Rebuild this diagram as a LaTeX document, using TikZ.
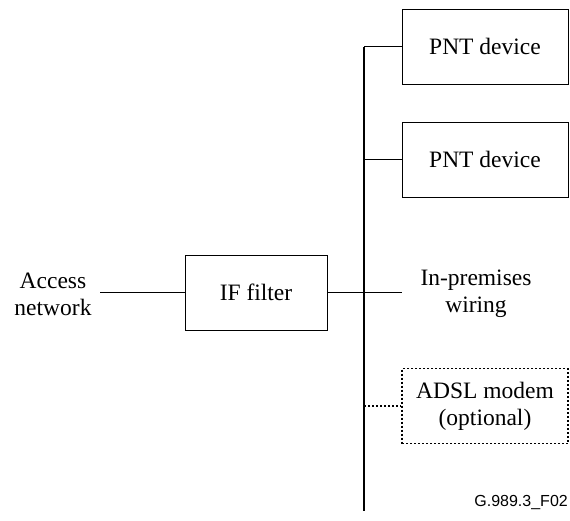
\documentclass[tikz,border=0pt]{standalone}
\usepackage{fontspec}
\setmainfont{Liberation Serif}
\newfontfamily\labelsans{Liberation Sans}
\begin{document}
\begin{tikzpicture}[x=1pt,y=-1pt,
  txt/.style={font=\fontsize{23.5}{27}\selectfont,align=center},
  box/.style={txt,draw,line width=1pt,minimum width=166pt,minimum height=75pt,inner sep=0pt},
  optbox/.style={box,line width=1.9pt,dash pattern=on 2pt off 2pt},
  wire/.style={line width=1.6pt},
  thinwire/.style={line width=1.1pt},
  optwire/.style={line width=1.9pt,dash pattern=on 2pt off 2pt},
  lbl/.style={txt,inner sep=0pt}]
\useasboundingbox (0,0) rectangle (570,520);
% devices on the in-premises wiring
\node[box] (pnt1) at (485,46.5) {PNT device};
\node[box] (pnt2) at (485,159.5) {PNT device};
\node[box,minimum width=142pt] (filt) at (256,292.5) {IF filter};
\node[optbox] (adsl) at (485,406) {ADSL modem\\(optional)};
% text labels
\node[lbl] (acc) at (53,294) {Access\\network};
\node[lbl] (prem) at (476,294) {In-premises\\wiring};
\node[font=\labelsans\fontsize{16}{18}\selectfont,anchor=east,inner sep=0pt] (tag) at (568,502) {G.989.3\_F02};
% bus
\coordinate (top) at (364,46.5);
\coordinate (bot) at (364,511);
\coordinate (b2) at (364,159.5);
\coordinate (ba) at (364,406);
\coordinate (accend) at (100,292.5);
\coordinate (premend) at (402,292.5);
\draw[thinwire] (top) -- (bot);
\draw[thinwire] (top) -- (pnt1.west);
\draw[wire] (b2) -- (pnt2.west);
\draw[wire] (accend) -- (filt.west);
\draw[wire] (filt.east) -- (premend);
\draw[optwire] (ba) -- (adsl.west);
\end{tikzpicture}
\end{document}
